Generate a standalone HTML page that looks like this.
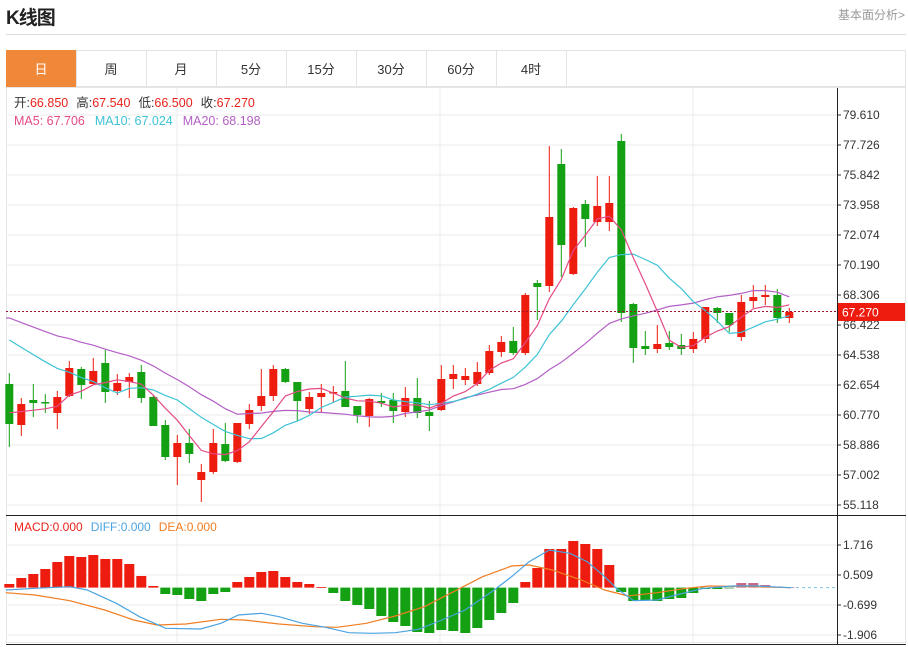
<!DOCTYPE html>
<html><head><meta charset="utf-8">
<style>
body{margin:0;background:#fff;font-family:"Liberation Sans","Noto Sans CJK SC",sans-serif;}
#w{position:relative;width:908px;height:647px;overflow:hidden;}
.t{position:absolute;}
</style></head><body><div id="w">
<div class="t" style="left:6px;top:3px;font-size:19px;font-weight:bold;color:#222;letter-spacing:-1px">K线图</div>
<div class="t" style="left:838px;top:6px;font-size:12px;color:#999">基本面分析&gt;</div>
<div class="t" style="left:6px;top:34px;width:900px;height:1px;background:#ddd"></div>
<svg id="s" class="t" style="left:0;top:0" width="908" height="647" font-family="Liberation Sans, Noto Sans CJK SC, sans-serif"></svg>
</div>
<script>
const S=document.getElementById('s');let h='';
// tabs
h+='<rect x="6.5" y="50.5" width="899" height="36" fill="#fff" stroke="#e3e3e3"/>';
const tabs=['日','周','月','5分','15分','30分','60分','4时'];
tabs.forEach((t,i)=>{const x=6+i*70;
 if(i==0)h+=`<rect x="6" y="50" width="70" height="37" fill="#f0883a"/>`;
 h+=`<line x1="${x+70.5}" y1="51" x2="${x+70.5}" y2="86" stroke="#e3e3e3"/>`;
 h+=`<text x="${x+35}" y="74" font-size="13" text-anchor="middle" fill="${i==0?'#fff':'#333'}">${t}</text>`;});
// chart frame
h+='<rect x="6.5" y="87.5" width="899" height="555" fill="none" stroke="#e6e6e6"/>';
const Y=p=>115+(79.610-p)*15.924;
const ticks=[79.610,77.726,75.842,73.958,72.074,70.190,68.306,66.422,64.538,62.654,60.770,58.886,57.002,55.118];
ticks.forEach(p=>{const y=Y(p);h+=`<line x1="6" y1="${y}" x2="837" y2="${y}" stroke="#ebebeb"/><line x1="837" y1="${y}" x2="841" y2="${y}" stroke="#333"/><text x="843" y="${y+4}" font-size="12" fill="#333">${p.toFixed(3)}</text>`;});
[177,440,693].forEach(x=>{h+=`<line x1="${x}" y1="88" x2="${x}" y2="642" stroke="#ebebeb"/>`;});
// macd grid
const M=[[1.716,545],[0.509,575],[-0.699,605],[-1.906,635]];
M.forEach(([v,y])=>{h+=`<line x1="6" y1="${y}" x2="837" y2="${y}" stroke="#ebebeb"/><line x1="837" y1="${y}" x2="841" y2="${y}" stroke="#333"/><text x="843" y="${y+4}" font-size="12" fill="#333">${v.toFixed(3)}</text>`;});
h+='<line x1="837.5" y1="88" x2="837.5" y2="645" stroke="#222"/>';
h+='<line x1="6" y1="515.5" x2="906" y2="515.5" stroke="#222"/>';
h+='<line x1="6" y1="644.5" x2="906" y2="644.5" stroke="#222"/>';
// candles
const D=`g 384,424,373,447
r 404,425,398,436
g 400,403,384,417
g 402,403,394,413
r 397,413,391,429
r 368,396,361,397
g 369,385,367,399
r 371,384,358,385
g 363,392,350,403
r 383,391,374,395
r 377,382,373,398
g 372,398,365,403
g 397,426,395,426
g 425,457,420,460
r 443,457,435,485
g 443,454,429,463
r 472,480,464,502
r 443,472,429,474
g 444,461,423,462
r 423,462,423,463
r 410,424,404,429
r 396,406,369,411
r 369,396,365,401
g 369,382,368,383
g 382,401,382,421
r 397,409,392,414
r 393,397,384,412
r 392,393,386,402
g 391,407,361,407
g 406,415,406,423
r 399,416,398,427
g 401,403,393,407
g 400,411,393,423
r 398,412,387,417
g 398,413,378,418
g 412,416,401,431
r 379,410,365,411
r 374,379,365,389
r 376,380,368,385
r 372,384,362,386
r 351,373,345,375
r 342,352,336,357
g 341,353,327,355
r 295,353,293,355
g 283,287,280,320
r 217,286,146,292
g 164,245,149,277
r 208,274,207,275
g 204,219,200,247
r 206,222,176,226
r 203,222,176,231
g 141,313,134,322
g 304,348,303,363
g 346,349,331,355
r 344,349,325,353
g 343,347,331,350
g 345,349,334,355
r 339,349,332,353
r 307,339,307,343
g 308,313,307,323
g 313,325,313,332
r 302,337,295,341
r 297,301,285,308
r 295,297,285,305
g 295,318,289,323
r 312,318,308,323`.split('\n').map(l=>{const [c,r]=l.split(' ');return [c].concat(r.split(',').map(Number));});
const X=i=>9.3+12*i;
const closes=D.map(d=>d[0]=='r'?d[1]:d[2]);
function ma(N,pad){const pts=[];for(let i=0;i<closes.length;i++){let s=0;for(let k=i-N+1;k<=i;k++)s+=k<0?pad:closes[k];pts.push(X(i).toFixed(1)+','+(s/N).toFixed(1));}return pts.join(' ');}
let cs='';
D.forEach((d,i)=>{const [c,t,b,wt,wb]=d;const col=c=='r'?'#ee1b0f':'#13a013';const x=X(i);
 cs+=`<line x1="${x}" y1="${wt}" x2="${x}" y2="${wb}" stroke="${col}"/><rect x="${x-4}" y="${t}" width="8" height="${Math.max(b-t,1.5)}" fill="${col}"/>`;});
h+=cs;
h+=`<polyline points="6,318 ${ma(20,312.4)}" fill="none" stroke="#b45fc6" stroke-width="1.2"/>`;
h+=`<polyline points="${ma(10,330.7)}" fill="none" stroke="#3cc3d4" stroke-width="1.2"/>`;
h+=`<polyline points="${ma(5,410)}" fill="none" stroke="#e44a86" stroke-width="1.2"/>`;
// price line
h+='<line x1="6" y1="311.5" x2="837" y2="311.5" stroke="#a0102a" stroke-dasharray="2,2"/>';
h+='<rect x="838" y="303" width="67" height="18" fill="#ee1b0f"/><text x="842" y="316.5" font-size="12" fill="#fff">67.270</text>';
// legends
h+='<text x="14" y="107" font-size="12.5"><tspan fill="#333">开:</tspan><tspan fill="#e8231a">66.850</tspan><tspan fill="#333" dx="8">高:</tspan><tspan fill="#e8231a">67.540</tspan><tspan fill="#333" dx="8">低:</tspan><tspan fill="#e8231a">66.500</tspan><tspan fill="#333" dx="8">收:</tspan><tspan fill="#e8231a">67.270</tspan></text>';
h+='<text x="14" y="125" font-size="12.5"><tspan fill="#e44a86">MA5: 67.706</tspan><tspan fill="#3cc3d4" dx="10">MA10: 67.024</tspan><tspan fill="#b45fc6" dx="10">MA20: 68.198</tspan></text>';
h+='<text x="14" y="531" font-size="12"><tspan fill="#e8231a">MACD:0.000</tspan><tspan fill="#4aa3e0" dx="8">DIFF:0.000</tspan><tspan fill="#f07d22" dx="8">DEA:0.000</tspan></text>';
// macd bars
const Z=587.6;
const bars={0:584,1:578,2:574,3:569,4:562,5:556,6:557,7:555,8:559,9:559,10:564,11:576,12:586,
13:594,14:595,15:599,16:601,17:594,18:592,19:582,20:577,21:572,22:571,23:577,24:582,25:584,26:587,
27:593,28:601,29:605,30:609,31:616,32:622,33:626,34:632,35:633,36:630,37:631,38:633,39:628,40:620,41:613,42:603,
43:582,44:568,45:549,46:549,47:541,48:544,49:549,50:565,51:592,52:601,53:600,54:601,55:599,56:598,57:593,58:589,59:589,60:588.5,61:583,62:583,63:585,64:586.5,65:587};
let bs='';
for(const k in bars){const v=bars[k];const x=X(+k);let col=v<Z?'#ee1b0f':'#13a013';if(+k>=60)col=v<Z?'#c96a86':'#5a9e5a';
 const y=Math.min(v,Z),hh=Math.max(Math.abs(v-Z),0.8);bs+=`<rect x="${x-5}" y="${y}" width="10" height="${hh}" fill="${col}"/>`;}
h+=bs;
h+='<line x1="790" y1="587.6" x2="837" y2="587.6" stroke="#7fc4e8" stroke-dasharray="3,3"/>';
const P=(a)=>a.map(([x,y])=>(x/1.72).toFixed(1)+','+(y/3+510).toFixed(1)).join(' ');
h+=`<polyline points="${P([[10,248],[60,255],[120,272],[180,300],[230,330],[270,345],[320,342],[380,328],[420,330],[480,342],[540,350],[580,352],[630,340],[680,318],[730,290],[780,245],[830,200],[880,168],[910,165],[950,180],[1000,210],[1040,240],[1080,258],[1130,248],[1180,235],[1220,228],[1300,230],[1360,233]])}" fill="none" stroke="#f07d22" stroke-width="1.2"/>`;
h+=`<polyline points="${P([[10,240],[60,235],[120,230],[150,240],[200,280],[240,320],[285,355],[345,357],[380,340],[410,315],[450,310],[480,320],[520,340],[560,352],[600,368],[640,370],[680,368],[720,358],[760,330],[800,300],[850,240],[880,200],[910,155],[945,120],[980,130],[1010,155],[1040,200],[1060,235],[1090,272],[1130,270],[1170,252],[1210,235],[1260,228],[1300,228],[1360,233]])}" fill="none" stroke="#4aa3e0" stroke-width="1.2"/>`;
S.innerHTML=h;
</script></body></html>
